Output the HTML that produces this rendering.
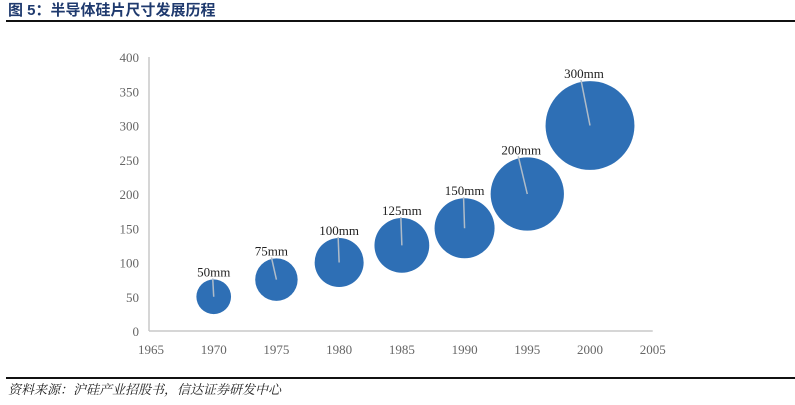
<!DOCTYPE html>
<html><head><meta charset="utf-8"><style>
body{margin:0;background:#fff;width:795px;height:400px;overflow:hidden;font-family:"Liberation Serif","Noto Serif CJK SC",serif}
</style></head><body>
<svg width="795" height="400" xmlns="http://www.w3.org/2000/svg">
<text x="8" y="15" font-family="Liberation Sans,'Noto Sans CJK SC',sans-serif" font-weight="bold" font-size="15" fill="#1f3a6e">图 5：半导体硅片尺寸发展历程</text>
<rect x="6" y="20" width="789" height="2" fill="#111"/>
<g id="plot"></g>
<rect x="6" y="377" width="789" height="2" fill="#111"/>
<text x="8" y="394" font-family="'Noto Serif CJK SC',serif" font-style="italic" font-size="13" fill="#222">资料来源：沪硅产业招股书，信达证券研发中心</text>
</svg>
<script>
const years=[1970,1975,1980,1985,1990,1995,2000];
const sizes=[50,75,100,125,150,200,300];
const labels=["50mm","75mm","100mm","125mm","150mm","200mm","300mm"];
const xTicks=[1965,1970,1975,1980,1985,1990,1995,2000,2005];
const yTicks=[0,50,100,150,200,250,300,350,400];
const NS="http://www.w3.org/2000/svg";
const g=document.getElementById('plot');
const x=v=>151+(v-1965)*(439/35);
const y=v=>331-(v-0)*(274/400);
const r=v=>2.45*Math.sqrt(v)+ (v>=200?2:0);
function mk(t,a){const e=document.createElementNS(NS,t);for(const k in a)e.setAttribute(k,a[k]);g.appendChild(e);return e;}
let e=mk('line',{x1:149,y1:y(400),x2:149,y2:y(0),stroke:'#c8c8c8','stroke-width':1.5});


e=mk('line',{x1:149,y1:y(0),x2:x(2005),y2:y(0),stroke:'#c8c8c8','stroke-width':1.5});


yTicks.forEach(t=>{const el=mk('text',{x:139,y:y(t)+5,'text-anchor':'end','font-size':13,fill:'#666'});el.textContent=t;

});
xTicks.forEach(t=>{const el=mk('text',{x:x(t),y:354,'text-anchor':'middle','font-size':13,fill:'#666'});el.textContent=t;

});
years.forEach((yr,i)=>{
 const cx=x(yr),cy=y(sizes[i]),rr=r(sizes[i]);
 const c=mk('circle',{cx:cx,cy:cy,r:rr,fill:'#2e6fb5'});
 
 
 const ly=cy-rr-3;
 const l=mk('line',{x1:cx-(i==1?5:i>=5?9:1),y1:ly+2,x2:cx,y2:cy,stroke:'#b0bcc8','stroke-width':1.5});
 
 
 const tx=mk('text',{x:cx-(i>=5?6:i==1?5:0),y:ly,'text-anchor':'middle','font-size':13,fill:'#222'});
 tx.textContent=labels[i];
 
 
});
</script>
</body></html>
